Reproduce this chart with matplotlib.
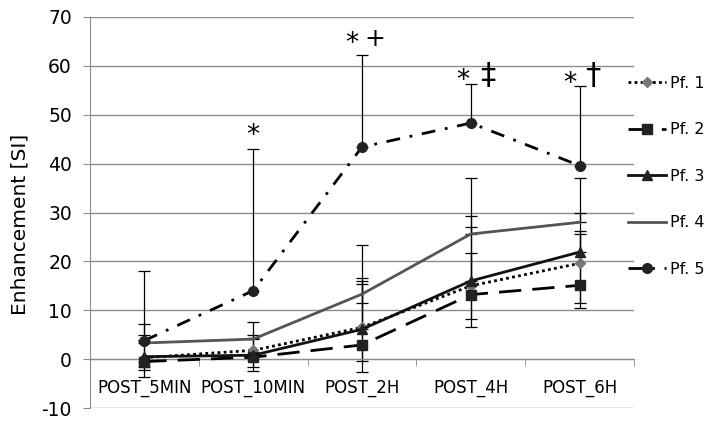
import matplotlib
matplotlib.use("Agg")
import matplotlib.pyplot as plt
import numpy as np

plt.rcParams["axes.unicode_minus"] = False

categories = ["POST_5MIN", "POST_10MIN", "POST_2H", "POST_4H", "POST_6H"]
series_names = ["Pf. 1", "Pf. 2", "Pf. 3", "Pf. 4", "Pf. 5"]

pf1 = [0.3, 1.8, 6.5, 15.0, 19.6]
pf2 = [-0.5, 0.4, 2.9, 13.2, 15.1]
pf3 = [0.5, 0.8, 6.1, 16.0, 21.9]
pf4 = [3.3, 4.1, 13.3, 25.6, 28.0]
pf5 = [3.8, 14.0, 43.4, 48.3, 39.6]

# error bars (lower, upper)
pf1_err_lo = [1.9, 3.4, 6.9, 6.7, 8.2]
pf1_err_hi = [3.7, 2.5, 9.5, 12.1, 6.6]
pf2_err_lo = [3.1, 2.9, 5.6, 6.6, 4.7]
pf2_err_hi = [0.0, 0.0, 12.4, 8.5, 10.6]
pf3_err_lo = [2.7, 0.0, 0.0, 0.0, 0.0]
pf3_err_hi = [4.5, 4.2, 10.4, 13.3, 8.0]
pf4_err_lo = [0.0, 0.0, 1.9, 0.0, 0.0]
pf4_err_hi = [3.8, 3.4, 10.0, 11.4, 9.1]
pf5_err_lo = [0.0, 0.0, 0.0, 0.0, 0.0]
pf5_err_hi = [14.2, 28.9, 18.9, 7.9, 16.2]

# significance marks
star_marks = ["", "*", "*", "*", "*"]
star_y = [None, 45.6, 64.4, 56.9, 56.2]
extra_marks = ["", "", "+", "\u2021", "\u2020"]
extra_y = [None, None, 65.6, 58.1, 58.1]

fig = plt.figure(figsize=(7.22, 4.26), dpi=100)
ax = fig.add_axes([90/722, (426-408)/426, (634-90)/722, (408-17)/426])

x = np.arange(len(categories))

styles = [
    dict(data=pf1, lo=pf1_err_lo, hi=pf1_err_hi, color="black", ls=(0, (1, 1.2)), marker="D",
         mfc="#777777", mec="#777777", ms=5.5, lw=2.0),
    dict(data=pf2, lo=pf2_err_lo, hi=pf2_err_hi, color="black", ls=(0, (8, 4)), marker="s",
         mfc="#222222", mec="#222222", ms=7, lw=2.0),
    dict(data=pf3, lo=pf3_err_lo, hi=pf3_err_hi, color="#111111", ls="-", marker="^",
         mfc="#222222", mec="#222222", ms=7, lw=2.0),
    dict(data=pf4, lo=pf4_err_lo, hi=pf4_err_hi, color="#555555", ls="-", marker="None",
         mfc="#555555", mec="#555555", ms=6, lw=2.0),
    dict(data=pf5, lo=pf5_err_lo, hi=pf5_err_hi, color="black", ls=(0, (5, 3.5, 1, 3.5)), marker="o",
         mfc="#222222", mec="#222222", ms=7, lw=2.0),
]

for name, st in zip(series_names, styles):
    d = np.array(st["data"])
    lo = np.array(st["lo"]); hi = np.array(st["hi"])
    ax.errorbar(x, d, yerr=[lo, hi], fmt="none", ecolor="black", elinewidth=0.9,
                capsize=4, capthick=0.9, zorder=2)
    ax.plot(x, d, color=st["color"], ls=st["ls"], lw=st["lw"], marker=st["marker"],
            mfc=st["mfc"], mec=st["mec"], ms=st["ms"], label=name, zorder=3)

star_dx = [0, 0.0, -0.095, -0.076, -0.092]
extra_dx = [0, 0, 0.12, 0.156, 0.117]
extra_fs = [0, 0, 18, 22, 22]
for i, xi in enumerate(x):
    if star_marks[i]:
        ax.text(xi + star_dx[i], star_y[i], star_marks[i], ha="center", va="center",
                fontsize=19, color="black")
    if extra_marks[i]:
        ax.text(xi + extra_dx[i], extra_y[i], extra_marks[i], ha="center", va="center",
                fontsize=extra_fs[i], color="black")

ax.set_xlim(-0.5, 4.5)
ax.set_ylim(-10, 70)
ax.set_yticks(np.arange(-10, 71, 10))
ax.yaxis.grid(True, color="#8c8c8c", lw=1.0)
ax.set_axisbelow(True)

ax.spines["top"].set_visible(False)
ax.spines["right"].set_visible(False)
ax.spines["left"].set_color("#8c8c8c")
ax.spines["bottom"].set_color("#8c8c8c")
ax.spines["bottom"].set_position(("data", 0))

ax.set_xticks(x)
ax.set_xticklabels(categories, fontsize=12)
ax.set_xticks(np.arange(-0.5, 4.6, 1.0), minor=True)
ax.tick_params(axis="x", which="major", length=0, pad=14)
ax.tick_params(axis="x", which="minor", length=5, color="#8c8c8c", direction="out")
ax.tick_params(axis="y", length=5, color="#8c8c8c", labelsize=13.5, pad=8)

ax.set_ylabel("Enhancement [SI]", fontsize=14.5)
ax.yaxis.set_label_coords(-0.112, 0.47)

leg = ax.legend(loc="upper left", bbox_to_anchor=(620/722, (426-68)/426),
                bbox_transform=fig.transFigure, frameon=False, fontsize=11.5,
                handlelength=2.4, handletextpad=0.2, labelspacing=1.97, borderpad=0)

fig.savefig("out.png", dpi=100)
